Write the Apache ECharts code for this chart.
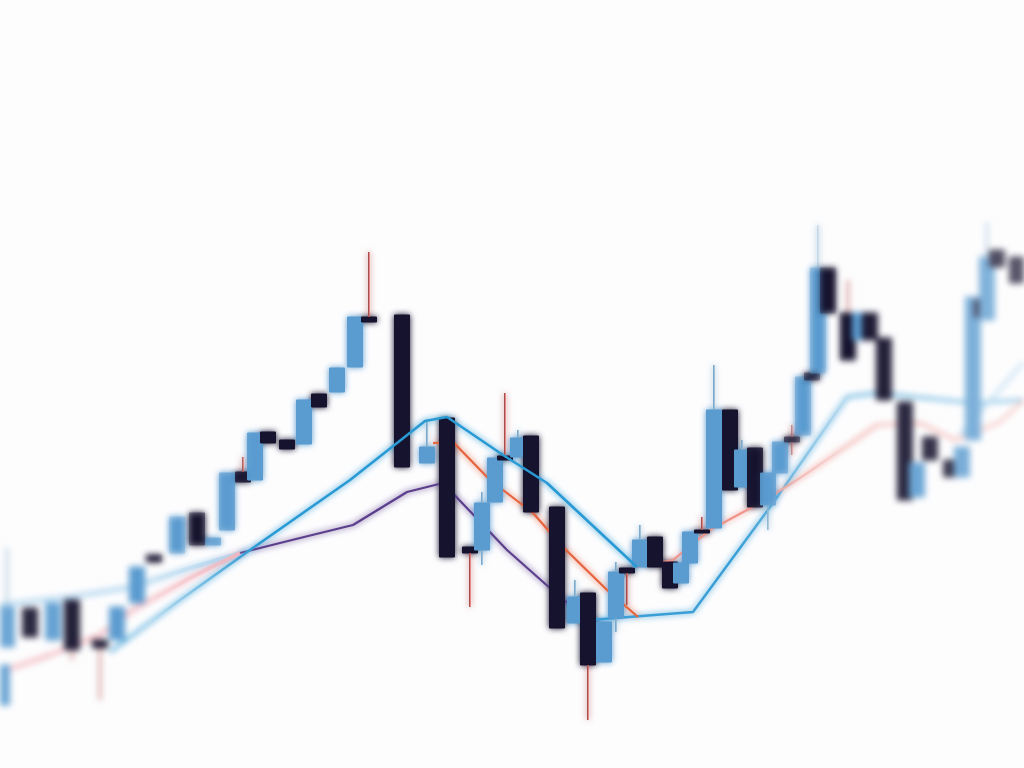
<!DOCTYPE html>
<html>
<head>
<meta charset="utf-8">
<script src="https://cdn.jsdelivr.net/npm/echarts@6/dist/echarts.min.js"></script>
<style>
  html, body { margin:0; padding:0; background:#fdfdfe; }
  .layer { position:absolute; left:0; top:0; width:1024px; height:768px; }
  #blurLayer { filter: blur(3px); }
  #sharpLayer {
    -webkit-mask-image: linear-gradient(to right, transparent 0px, transparent 150px, #000 260px, #000 740px, transparent 850px);
    mask-image: linear-gradient(to right, transparent 0px, transparent 150px, #000 260px, #000 740px, transparent 850px);
  }
  #wash {
    background: linear-gradient(to right, rgba(255,255,255,0.12) 0px, rgba(255,255,255,0) 140px, rgba(255,255,255,0) 850px, rgba(255,255,255,0.3) 1024px);
    pointer-events:none;
  }
</style>
</head>
<body>
<div id="blurLayer" class="layer"></div>
<div id="sharpLayer" class="layer"></div>
<div id="wash" class="layer"></div>
<script>
// ---- data (time in minutes, prices) ----
const times  = [1,3.5,15,26.5,36,50,58.5,68.5,77,88.5,98.5,106.5,113.5,121.5,127.5,134,143.5,152,159.5,168.5,177.5,184.5,201,213.5,223.5,235,241,247.5,252.5,259,265.5,278.5,287.5,294,302,308,313.5,320,327.5,335,340.5,345,351,357,365,371,377.5,384,390,396,401.5,406,409,414,424,430,435,442,452.5,458.5,465,475.5,481,486.5,491,493.5,498.5,508.5];
const opens  = [9.5,15.3,19.2,16.0,20.0,16.0,16.0,19.7,24.5,24.7,28.7,25.5,27.0,32.8,32.0,36.8,36.0,35.6,40.6,40.8,43.3,48.3,48.5,33.7,38.2,25.3,25.0,29.8,34.4,34.3,36.4,29.3,17.7,20.7,13.8,18.2,23.2,23.3,26.3,23.8,21.7,23.7,27.0,27.2,39.0,31.3,35.2,29.5,32.7,36.3,36.5,42.7,42.7,53.2,48.7,46.0,48.7,46.2,39.8,30.3,36.3,34.0,32.3,36.0,50.0,48.0,55.0,54.3];
const closes = [13.5,19.3,16.3,19.7,15.0,15.2,19.3,23.3,23.8,28.3,25.5,26.2,32.7,31.8,36.7,35.7,35.1,40.0,39.3,43.2,48.3,47.8,33.3,35.3,24.3,24.7,29.7,34.2,34.0,36.2,28.8,17.2,20.3,13.5,17.8,22.8,22.7,26.0,23.3,21.2,23.7,26.8,26.7,39.0,31.0,35.0,29.3,32.7,35.8,35.8,42.3,42.0,53.2,48.7,44.0,48.7,46.0,40.0,30.0,33.7,34.0,32.3,35.3,50.3,48.3,54.3,53.3,51.7];
const lows   = [9.5,15.3,16.3,16.0,14.0,10.0,16.0,19.7,23.8,24.7,25.5,25.5,27.0,31.8,32.0,35.7,35.1,35.6,39.3,40.8,43.3,47.8,33.3,33.7,24.3,19.3,23.5,29.8,34.0,34.3,28.8,17.2,17.7,8.0,13.8,16.8,19.5,23.3,23.3,21.2,21.7,23.7,26.7,27.2,31.0,31.3,29.3,27.0,32.7,34.5,36.5,42.0,42.7,48.7,44.0,46.0,46.0,40.0,30.0,30.3,34.0,32.3,32.3,36.0,48.3,48.0,53.3,51.7];
const highs  = [13.5,25.2,19.2,19.7,20.0,16.0,19.3,23.3,24.5,28.3,28.7,26.2,32.7,34.3,36.7,36.8,36.0,40.0,40.6,43.2,48.3,54.8,48.5,38.0,38.2,25.3,30.8,34.2,40.7,37.0,36.4,29.3,22.0,20.7,17.8,23.8,23.2,27.5,26.3,23.8,23.7,26.8,28.3,43.5,39.0,36.0,35.2,32.7,35.8,37.5,42.3,42.7,57.5,53.2,52.0,48.7,48.7,46.2,39.8,33.7,36.3,34.0,35.3,50.3,50.0,57.8,55.0,54.3];

// moving-average style lines: [time, price]
const tealLine      = [[55,14.8],[90,20.0],[125,25.0],[175,32.0],[212.5,37.9],[223.5,38.3],[251.5,34.5],[273.5,31.7],[318.5,23.3]];
const paleBlueLeft  = [[0,19.5],[35,20.3],[66.5,21.3],[95,23.2],[125,25.0]];
const pinkLeft      = [[0,12.8],[25,14.5],[50,16.5],[66.5,19.0],[95,22.2],[120,24.7]];
const purpleLine    = [[120,24.7],[150,26.2],[176.5,27.5],[203.5,30.8],[221.5,31.7],[253.5,25.0],[280,20.3],[295,18.0]];
const blueRight     = [[295,18.0],[346.5,18.8],[386.5,29.7],[423.5,40.3],[438.5,40.7],[486.5,39.7],[512,40.0]];
const orangeLine    = [[216.5,35.7],[226.5,35.8],[245,32.0],[266.5,28.7],[281.5,25.3],[303.5,21.0],[319,18.3]];
const pinkRight     = [[318.5,23.3],[336.5,24.0],[355,27.0],[380,29.7],[400,32.2],[430,36.3],[438.5,37.5],[460,37.7],[477.5,36.0],[500,37.8],[512,40.0]];
const paleBlueRight = [[480,36.5],[512,43.8]];

const UP = '#5a9bd0', DOWN = '#16132e', WICK_UP = '#86afca', WICK_DOWN = '#e2695e';

const candleData = times.map((t,i)=>[t, opens[i], closes[i], lows[i], highs[i]]);

function lineSeries(data, color, width, z) {
  return { type:'line', data, showSymbol:false, symbol:'none', smooth:false, z: z||3,
           lineStyle:{ color, width }, animation:false, silent:true };
}

const option = {
  animation:false,
  backgroundColor:'transparent',
  grid:{ left:0, right:0, top:0, bottom:0 },
  xAxis:{ type:'value', min:0, max:512, show:false },
  yAxis:{ type:'value', min:3.2, max:80, show:false },
  series:[
    lineSeries(paleBlueLeft, '#a8d2ee', 4, 2),
    lineSeries(pinkLeft, '#f3b3bb', 4, 2),
    lineSeries(purpleLine, '#5b3f8c', 2.2, 3),
    lineSeries(blueRight, '#3a9fd6', 2.4, 3),
    lineSeries(orangeLine, '#e5643e', 2.2, 3),
    lineSeries(pinkRight, '#f0948a', 2.2, 3),
    lineSeries(paleBlueRight, '#a9d2ee', 3, 3),
    {
      type:'candlestick', name:'Price', data:candleData,
      encode:{ x:0, y:[1,2,3,4] },
      barWidth:15, z:4, animation:false, silent:true,
      itemStyle:{ color:UP, color0:DOWN, borderColor:UP, borderColor0:DOWN, borderWidth:1 }
    },
    {
      type:'custom', name:'Wicks', data:candleData, z:5, animation:false, silent:true,
      encode:{ x:0, y:[3,4] },
      renderItem(params, api){
        const t = api.value(0), o = api.value(1), c = api.value(2), l = api.value(3), h = api.value(4);
        const top = Math.max(o,c), bot = Math.min(o,c);
        const col = c >= o ? WICK_UP : WICK_DOWN;
        const kids = [];
        if (h > top) {
          const a = api.coord([t,h]), b = api.coord([t,top]);
          kids.push({type:'line', shape:{x1:a[0],y1:a[1],x2:b[0],y2:b[1]}, style:{stroke:col, lineWidth:1.4}});
        }
        if (l < bot) {
          const a = api.coord([t,bot]), b = api.coord([t,l]);
          kids.push({type:'line', shape:{x1:a[0],y1:a[1],x2:b[0],y2:b[1]}, style:{stroke:col, lineWidth:1.4}});
        }
        return {type:'group', children:kids};
      }
    },
    lineSeries(tealLine, '#2a9ad4', 2.6, 6)
  ]
};

['blurLayer','sharpLayer'].forEach(id=>{
  const ch = echarts.init(document.getElementById(id), null, {renderer:'canvas', width:1024, height:768});
  ch.setOption(option);
});
</script>
</body>
</html>
